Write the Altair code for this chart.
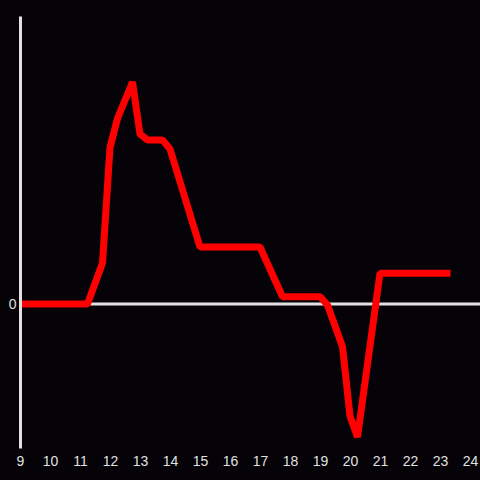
import altair as alt
import pandas as pd

hours = [9.0, 11.25, 11.75, 12.0, 12.25, 12.75, 13.0, 13.25, 13.75, 14.0,
         15.0, 17.0, 17.75, 19.0, 19.25, 19.75, 20.0, 20.25, 21.0, 23.35]
values = [0.0, 0.0, 4.1, 15.65, 18.55, 22.2, 17.0, 16.4, 16.4, 15.5,
          5.7, 5.7, 0.73, 0.73, -0.1, -4.27, -11.2, -13.3, 3.07, 3.07]
x_ticks = list(range(9, 25))
y_ticks = [0]

BG = "#050308"
AXIS = "#e2e2e2"
LABEL = "#e0e0e0"

df = pd.DataFrame({"hour": hours, "value": values})

xs = alt.Scale(domain=[9, 9 + 460 / 30], nice=False, zero=False)
ys = alt.Scale(domain=[-14.4, 28.8], nice=False, zero=False)

y_axis = alt.Axis(
    values=y_ticks, title=None, domain=True, domainColor=AXIS,
    domainWidth=3, ticks=False, tickSize=0, grid=False,
    labelColor=LABEL, labelFontSize=14, labelPadding=4,
    labelFont="Liberation Sans", zindex=1)

zero = alt.Chart(pd.DataFrame({"y": [0]})).mark_rule(
    color=AXIS, strokeWidth=3
).encode(y=alt.Y("y:Q", scale=ys, axis=y_axis))

line = alt.Chart(df).mark_line(
    color="#ff0000", strokeWidth=7, strokeCap="butt", strokeJoin="bevel"
).encode(
    x=alt.X("hour:Q", scale=xs, axis=alt.Axis(
        values=x_ticks, title=None, domain=False, ticks=False, tickSize=0,
        grid=False, labelColor=LABEL, labelFontSize=14, labelPadding=6,
        labelFont="Liberation Sans", format="d", labelFlush=False,
        labelOverlap=False)),
    y=alt.Y("value:Q", scale=ys, axis=y_axis),
)

chart = alt.layer(zero, line).properties(
    width=460, height=432,
    autosize=alt.AutoSizeParams(type="none"),
    padding={"left": 20, "top": 16, "right": 0, "bottom": 32},
    background=BG,
).configure_view(stroke=None)

chart.save("out.html", embed_options={
    "renderer": "svg", "actions": False,
    "defaultStyle": "html,body{background:#050308;margin:0;overflow:hidden}"})
